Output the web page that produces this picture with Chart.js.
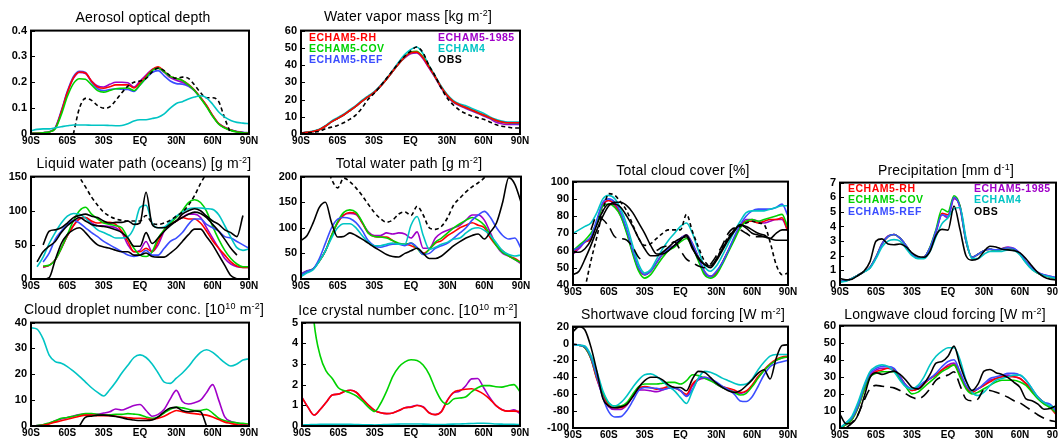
<!DOCTYPE html>
<html lang="en">
<head>
  <meta charset="UTF-8" />
  <title>Zonal mean climatologies</title>
  <script src="https://cdn.jsdelivr.net/npm/chart.js"></script>
  <style>
    body {
      margin: 0;
      width: 1058px;
      height: 439px;
      position: relative;
      overflow: hidden;
      background: white;
      font-family: 'Liberation Sans', Arial, sans-serif;
      color: black;
    }
    canvas { position: absolute; }
    .title {
      position: absolute;
      transform: translate(-50%, -50%);
      white-space: nowrap;
      font-size: 14px;
      letter-spacing: 0.2px;
    }
    .title sup { font-size: 9px; vertical-align: 5px; line-height: 0; }
    .legend {
      position: absolute;
      font-size: 10.5px;
      font-weight: bold;
      letter-spacing: 0.5px;
      line-height: 11.2px;
      white-space: nowrap;
    }
  </style>
</head>
<body>
<script>
  // latitudes (5 degree grid) and axis labels
  const LAT = [-90,-85,-80,-75,-70,-65,-60,-55,-50,-45,-40,-35,-30,-25,-20,-15,-10,-5,0,
               5,10,15,20,25,30,35,40,45,50,55,60,65,70,75,80,85,90];
  const LAT_TICKS = [-90, -60, -30, 0, 30, 60, 90];
  const LAT_NAMES = ['90S', '60S', '30S', 'EQ', '30N', '60N', '90N'];

  // aerosol optical depth
  const aodRH   = [0.002,0.003,0.005,0.008,0.022,0.085,0.16,0.217,0.24,0.236,0.204,0.182,0.177,0.183,0.19,0.19,0.19,0.178,0.198,0.223,0.248,0.26,0.242,0.223,0.215,0.207,0.192,0.17,0.141,0.11,0.072,0.04,0.025,0.015,0.009,0.005,0.003];
  const aodCOV  = [0.002,0.003,0.005,0.008,0.02,0.075,0.145,0.195,0.214,0.212,0.19,0.168,0.162,0.168,0.175,0.177,0.178,0.168,0.19,0.218,0.245,0.255,0.24,0.223,0.215,0.207,0.19,0.168,0.138,0.105,0.068,0.038,0.023,0.014,0.008,0.005,0.003];
  const aodREF  = [0.002,0.003,0.005,0.009,0.025,0.09,0.165,0.222,0.243,0.238,0.2,0.175,0.168,0.172,0.175,0.173,0.172,0.165,0.19,0.215,0.238,0.245,0.225,0.205,0.195,0.193,0.185,0.168,0.14,0.108,0.07,0.04,0.025,0.015,0.01,0.007,0.005];
  const aod1985 = [0.002,0.003,0.005,0.008,0.022,0.085,0.16,0.215,0.238,0.234,0.205,0.186,0.182,0.192,0.2,0.2,0.198,0.182,0.205,0.228,0.25,0.255,0.238,0.218,0.208,0.2,0.188,0.168,0.14,0.108,0.07,0.04,0.025,0.015,0.009,0.006,0.004];
  const aodE4   = [0.012,0.018,0.02,0.02,0.024,0.028,0.032,0.035,0.035,0.035,0.034,0.034,0.034,0.033,0.032,0.033,0.04,0.05,0.055,0.055,0.06,0.065,0.078,0.1,0.118,0.125,0.135,0.143,0.148,0.14,0.115,0.085,0.065,0.052,0.045,0.042,0.04];
  const aodObs  = [null,null,null,null,null,null,null,0,0.1,0.138,0.13,0.11,0.1,0.105,0.13,0.16,0.185,0.2,0.205,0.215,0.24,0.255,0.245,0.225,0.215,0.22,0.215,0.19,0.16,0.14,0.14,0.125,0.06,0,null,null,null];

  // water vapour mass
  const wvRH   = [0.5,1,1.5,2.5,4.5,7,9,11,13.5,16,19,21.5,24,27.5,31.5,36,40.5,44.5,47,47.5,44.5,39,33.5,27.5,22.5,19,17,15.5,14,12.5,11,9.5,8,7,6.5,6.5,6.5];
  const wvCOV  = [0.5,1,1.5,2.5,4.5,7,9,11,13.5,16,19,21.5,24,27.5,31.5,36,40.5,44.5,47.5,48,45,39.5,33.5,27.5,22.5,19,17,15.5,14,12.5,11,9.5,8,7,6.5,6.5,6.5];
  const wvREF  = [0.5,1,1.5,2.5,4.5,7,9,11,13.5,16,19,21.5,24,27.5,31.5,36,40.5,44.5,47,47.5,44.5,39,33.5,27.5,22.5,19,17,15.5,14,12.5,11,9.5,8,7,6.5,6,6];
  const wv1985 = [0.5,1,1.5,2.5,4.5,7,9,11,13.5,16,19,21.5,24,27.5,31.5,36,40.5,44,46.5,47,44,38.5,33,27,22,18.5,16.5,15,13.5,12,10.5,9,7,6,5.5,5.5,5.5];
  const wvE4   = [0.5,1,1.7,2.8,4.8,7.5,9.5,11.5,14,16.5,19.5,22,24.5,28,32,36.5,41.5,46,49,50.5,47,40,34,28,23,19.5,17.5,16.5,15,13.5,12,10,8.5,7.5,7,7,7];
  const wvObs  = [0.3,0.5,1,1.5,3,4,5,6.5,8.5,11,15,20,23.5,27.5,32,36.5,41,45,48,50.5,47.5,40,34,27,21,17,14,12,10.5,9.5,8.5,7,5.5,4.5,4,3.5,3.5];

  // liquid water path over oceans
  const lwpRH   = [null,null,18,20,28,45,63,78,88,90,85,82,83,83,80,70,55,40,40,45,40,55,72,80,85,90,88,88,82,70,56,45,35,25,19,17,17];
  const lwpCOV  = [null,null,19,20,28,45,65,85,100,105,95,88,82,80,78,75,60,45,35,33,40,60,72,82,90,100,112,116,112,99,77,58,42,30,22,18,18];
  const lwpREF  = [null,null,25,38,58,70,80,86,82,75,68,62,55,50,45,40,35,33,35,42,35,35,45,55,60,68,80,88,88,80,75,70,62,60,55,50,45];
  const lwp1985 = [null,null,17,20,28,45,63,78,88,90,82,78,78,77,75,68,50,40,42,55,40,50,70,80,85,90,95,95,90,75,60,45,30,22,18,17,17];
  const lwpE4   = [null,18,32,52,68,82,92,96,95,89,80,72,68,64,60,60,62,75,105,108,82,75,76,84,92,98,103,104,104,103,102,94,78,61,46,42,44];
  const lwpObsA = [null,null,50,70,72,75,82,90,93,95,92,90,85,82,83,83,85,80,82,127,80,75,75,80,85,95,100,103,100,92,85,80,72,68,62,93,null];
  const lwpObsB = [null,0,0,2,28,52,65,72,75,68,58,50,47,45,42,40,40,35,35,38,33,32,32,38,45,55,65,73,73,62,50,35,20,5,0,null,null];
  const lwpObsC = [null,25,40,48,55,68,78,85,90,85,80,78,77,75,72,68,60,48,48,68,52,60,70,78,85,90,95,98,96,90,80,70,58,45,35,null,null];
  const lwpObsD = [null,null,null,null,null,null,null,175,150,135,120,108,98,92,88,86,85,85,85,93,82,80,82,86,92,98,108,122,140,155,170,null,null,null,null,null,null];

  // total water path
  const twpRH   = [8,15,20,35,55,85,110,125,130,128,110,90,83,82,82,75,68,68,65,60,50,58,70,75,85,92,100,105,110,105,100,80,65,55,45,40,32];
  const twpCOV  = [8,15,20,35,55,85,112,130,135,130,112,90,83,82,80,75,70,68,70,60,48,58,72,80,90,100,108,115,120,115,105,85,65,52,45,38,32];
  const twpREF  = [8,15,20,40,70,100,117,120,118,110,95,75,65,62,65,68,68,65,70,62,48,50,60,65,70,80,90,100,115,125,132,120,100,85,78,80,60];
  const twp1985 = [10,16,20,35,55,85,110,125,128,126,110,92,85,85,90,88,90,88,80,92,60,60,80,90,95,100,105,115,125,125,115,90,65,50,45,38,30];
  const twpE4   = [5,12,18,35,55,80,100,108,108,100,85,72,65,65,68,70,68,68,105,122,85,58,62,68,72,78,80,90,98,100,95,85,70,55,48,45,47];
  const twpObsA = [75,85,110,140,150,110,82,83,90,85,78,70,62,55,48,44,43,50,55,60,50,40,40,45,55,65,73,80,85,88,78,92,110,150,198,185,150];
  const twpObsB = [null,null,null,null,230,195,178,197,190,178,163,146,130,118,111,115,127,131,124,142,125,100,97,103,120,145,158,170,180,188,198,215,null,null,null,null,null];

  // total cloud cover
  const tccRH   = [59,62,65,67,77,87,89,87,81,71,59,49,46,48,53,58,61,63,67,69,64,56,48,45,47,53,60,67,74,77,77,76,77,78,78,79,71];
  const tccCOV  = [60,63,66,70,76,86,87,85,80,70,58,48,44,46,51,56,60,62,65,67,62,54,46,44,46,52,59,66,73,77,78,77,78,79,80,81,73];
  const tccREF  = [60,62,65,68,78,88,90,88,82,72,60,50,46,48,53,58,61,63,67,69,64,56,48,45,48,53,60,68,75,80,83,84,84,84,85,87,80];
  const tcc1985 = [58,61,65,67,76,86,89,86,80,71,59,49,46,48,53,58,61,63,67,69,63,55,47,45,47,53,60,67,74,78,78,77,76,77,78,78,71];
  const tccE4   = [70,72,74,76,82,90,92,90,84,75,63,52,47,49,55,61,66,70,74,76,70,60,51,48,51,57,64,71,77,82,83,83,83,84,85,86,86];
  const tccObsA = [46,48,55,63,72,80,86,88,88,86,82,76,70,63,58,58,60,63,66,69,62,55,52,50,54,60,66,71,75,73,70,69,68,67,66,66,66];
  const tccObsB = [59,59,61,66,75,83,87,87,85,80,74,67,61,57,57,59,62,65,67,68,61,56,52,51,55,61,67,72,75,74,72,70,69,67,70,72,72];
  const tccObsC = [null,null,null,72,80,78,74,68,67,66,62,56,54,null,60,62,63,65,60,55,53,51,50,52,57,63,70,73,72,70,68,68,68,66,null,null,null];
  const tccObsD = [null,null,38,54,68,83,93,92,88,83,75,67,63,64,67,70,72,72,72,81,71,62,54,51,55,62,68,72,74,76,77,76,75,65,52,46,47];

  // precipitation
  const prRH   = [0.25,0.3,0.45,0.67,0.9,1.2,1.9,2.8,3.3,3.45,3.2,2.7,2.1,1.85,1.9,2.55,3.7,4.9,4.8,6.0,5.3,3.0,1.9,2.1,2.35,2.45,2.35,2.45,2.55,2.45,2.1,1.55,1.1,0.8,0.67,0.55,0.45];
  const prCOV  = [0.25,0.3,0.45,0.67,0.9,1.2,1.9,2.8,3.3,3.45,3.2,2.7,2.1,1.85,1.9,2.6,3.8,5.2,5.0,6.1,5.4,3.0,1.9,2.1,2.35,2.45,2.35,2.45,2.55,2.45,2.1,1.55,1.1,0.8,0.67,0.55,0.45];
  const prREF  = [0.25,0.3,0.45,0.67,0.9,1.2,1.9,2.8,3.3,3.45,3.2,2.7,2.1,1.85,1.9,2.55,3.7,4.8,4.7,6.0,5.3,3.0,1.9,2.1,2.35,2.45,2.4,2.45,2.55,2.5,2.15,1.6,1.15,0.85,0.7,0.6,0.5];
  const pr1985 = [0.25,0.3,0.45,0.67,0.9,1.2,1.9,2.85,3.35,3.45,3.2,2.7,2.1,1.85,1.9,2.5,3.6,4.8,4.6,5.9,5.4,3.1,1.9,2.1,2.35,2.45,2.35,2.5,2.6,2.5,2.15,1.6,1.15,0.85,0.7,0.6,0.5];
  const prE4   = [0.2,0.25,0.45,0.67,0.9,1.15,1.8,2.6,3.0,3.1,3.0,2.5,2.0,1.8,1.8,2.3,3.3,4.2,4.6,5.2,5.3,3.2,1.8,1.8,2.1,2.3,2.3,2.3,2.4,2.35,2.05,1.5,1.05,0.8,0.65,0.55,0.45];
  const prObs  = [0.45,0.35,0.4,0.65,0.95,1.6,3.0,3.15,2.8,2.75,2.8,2.6,2.2,1.95,1.9,2.3,3.4,3.8,3.75,5.4,3.8,2.0,1.7,1.8,2.3,2.65,2.6,2.45,2.4,2.35,2.2,1.8,1.3,0.85,0.55,0.4,0.35];

  // cloud droplet number concentration
  const cdRH   = [0,0.1,0.3,0.8,1.5,2,2.6,3.2,3.8,4.2,4.2,4,4,4,3.8,3.5,3.2,3,3,2.8,2.5,3,3.8,5,6,5.5,5,4.8,4.5,4.2,3.5,2.5,1.5,1,0.5,0.3,0.2];
  const cdCOV  = [0,0.2,0.5,1.2,2,3,3.3,3.8,4.3,4.8,4.8,4.5,4.3,4.3,4.5,4.5,4.8,4.6,4.3,3.5,3,3.5,5,6.5,7.3,7,6.5,6,6,6.5,5,3,2,1.5,1.2,1,0.8];
  const cd1985 = [0,0.2,0.5,1,2,2.7,3.3,3.9,4.4,4.7,4.6,4.5,5,5.5,6.6,6.2,7,7.9,8.3,6,3.8,4.5,6.5,10.5,13.8,9.5,8.5,9,10,13,16,10,3.5,1.8,1.2,0.6,0.3];
  const cdE4   = [38,37.5,33.7,27.4,24.9,24.3,23,21.2,19.2,17,14.8,13,11.6,14,17,20.5,23.5,26.5,27.5,26.5,24,20.5,17,16.5,18.5,20.5,23,26,28.5,29.5,28.5,26.5,24.5,23.2,24,25.5,26];
  const cdObs  = [null,null,null,null,null,null,null,null,0,3.4,3.8,4.2,4.2,4,3.7,3.2,2.6,2.3,2.1,2.1,2.3,3.5,5.5,7,7.2,6,5.5,5.8,5.5,0,null,null,null,null,null,null,null];

  // ice crystal number concentration
  const icRH   = [1.38,0.9,0.53,0.8,1.15,1.5,1.54,1.67,1.73,1.62,1.3,1.0,0.75,0.64,0.6,0.63,0.75,0.88,0.91,0.99,0.91,0.63,0.55,0.68,1.23,1.62,1.73,1.78,1.8,1.7,1.54,1.3,1.0,0.79,0.72,0.72,0.7];
  const icCOV  = [null,9,5.0,3.4,2.65,2.3,1.85,1.7,1.6,1.45,1.2,0.9,0.7,1.1,1.7,2.4,2.85,3.1,3.2,3.17,2.95,2.5,1.8,1.25,1.05,1.3,1.35,1.4,1.65,1.85,1.95,1.95,1.9,1.88,1.95,2.0,1.65];
  const ic1985 = [1.38,0.9,0.53,0.8,1.15,1.5,1.54,1.67,1.73,1.62,1.3,1.0,0.75,0.64,0.6,0.63,0.75,0.88,0.93,1.0,0.93,0.65,0.55,0.7,1.25,1.6,1.68,1.93,2.28,2.3,1.85,1.38,1.0,0.8,0.72,0.78,0.6];
  const icE4   = [0.05,0.06,0.07,0.08,0.08,0.08,0.08,0.08,0.08,0.07,0.06,0.06,0.05,0.06,0.07,0.08,0.09,0.1,0.1,0.1,0.09,0.08,0.07,0.07,0.08,0.09,0.1,0.11,0.12,0.13,0.13,0.12,0.1,0.09,0.08,0.08,0.07];

  // shortwave cloud forcing
  const swRH   = [-1,-2,-5,-18,-42,-60,-73,-76,-76,-72,-62,-53,-51,-52,-54,-53,-51,-52,-56,-60,-48,-42,-40,-42,-47,-51,-53,-55,-58,-56,-49,-39,-31,-24,-19,-16,-15];
  const swCOV  = [-1,-2,-5,-17,-40,-58,-71,-74,-74,-70,-60,-51,-48,-48,-48,-47,-46,-46,-48,-44,-37,-38,-41,-44,-48,-52,-55,-58,-61,-59,-51,-41,-32,-25,-20,-17,-16];
  const swREF  = [-1,-2,-4,-16,-39,-64,-81,-87,-86.5,-79.5,-68,-55.6,-52,-52.5,-53,-54.5,-53,-53,-55.6,-62.6,-54.5,-42,-40,-42,-45.6,-50.6,-54.5,-60,-68,-68.7,-63,-50.6,-37,-27.5,-23.6,-21.7,-19.7];
  const sw1985 = [-1,-2,-5,-18,-42,-62,-75,-78,-78,-73,-63,-55,-55,-56,-57,-55,-53,-53,-56,-62,-50,-43,-41,-43,-48,-52,-54,-57,-59,-57,-50,-40,-32,-25,-20,-17,-16];
  const swE4   = [-1.2,-2,-3,-14,-33,-56,-70,-74,-70,-62,-52,-43,-37,-36,-39,-45,-51,-56,-64,-71,-56,-41,-33,-34,-37,-41,-44,-47,-49,-48,-42,-31,-22,-15,-13,-13,-13];
  const swObs  = [14,20,16,-4,-33,-65,-74,-76,-75,-72,-63,-52,-44,-40,-40,-43,-49,-52,-52,-56,-42,-33,-34,-40,-47,-52,-56,-58,-56,-50,-43,-35,-31,-42,-18,-2.5,-1.6];

  // longwave cloud forcing
  const lwRH   = [0,2,5,12,22,30,33,34,35,34,30,25,22,23,26,29,31,34,36,37,31,24,21,23,25,27,29,30,30,30,29,26,22,18,15,12,8];
  const lwCOV  = [0,2,5,12,22,30,32,33,33,33,29,24,20,21,24,27,30,33,35,37,30,23,20,21,23,25,27,28,28,28,27,25,21,17,14,12,9];
  const lwREF  = [0,3,6,13,24,32,35,36,36,35,30,25,23,24,27,29,32,36,39,40,33,25,22,23,26,29,30,31,32,32,31,28,23,18,15,14,10];
  const lw1985 = [0,2,5,12,23,31,34,35,35,34,30,25,22,23,26,29,31,34,37,38,32,24,21,23,25,28,29,30,31,30,29,26,22,18,15,12,9];
  const lwE4   = [0,3,7,15,25,33,36,37,36,33,28,24,23,25,30,37,42,45,47,47,40,28,21,19,21,25,28,29,30,31,31,28,23,18,15,13,12];
  const lwObs  = [8,2.5,3,7.6,18,29.5,32.4,31.4,32.4,33.3,31.4,28,23.8,22.9,26,31.4,38,39,42,48,37,27.6,22,25.7,33.3,34.3,32.4,31.4,29.5,26.7,23.8,17,16,14,11,11.4,13];
  const lwObsB = [null,0,3,8,16,23,25,24.5,24,23.5,22,20,18,17,19,23,28,30,31,33,25,17,16,17,22.3,22,21,19.6,18,16,14.7,12.4,10,7.6,5.7,4.4,3.8];

  const RED = '#ff0000', GREEN = '#00d200', BLUE = '#3a4dff', PURPLE = '#a000c8', CYAN = '#00c4c4', BLACK = '#000000';
  const SHORT = [4, 3], LONG = [11, 6];

  Chart.defaults.font.family = "'Liberation Sans', Arial, sans-serif";
  Chart.defaults.color = '#000';

  // thick frame round the plotting area, with short inward ticks on the left
  const frame = {
    id: 'frame',
    afterDatasetsDraw(chart) {
      const { ctx, chartArea: a, scales } = chart;
      ctx.save();
      ctx.strokeStyle = '#000';
      ctx.lineWidth = 1;
      ctx.beginPath();
      scales.y.ticks.forEach(t => {
        const py = Math.round(scales.y.getPixelForValue(t.value)) + 0.5;
        ctx.moveTo(a.left, py);
        ctx.lineTo(a.left + 4, py);
      });
      ctx.stroke();
      ctx.lineWidth = 2;
      ctx.strokeRect(a.left, a.top, a.right - a.left, a.bottom - a.top);
      ctx.restore();
    }
  };

  const panels = [
    { box: [31, 28, 218, 106], y: [0, 0.4, 0.1], at: [143, 17], title: 'Aerosol optical depth',
      lines: [[aodE4, CYAN], [aodObs, BLACK, SHORT], [aodCOV, GREEN], [aodRH, RED], [aod1985, PURPLE], [aodREF, BLUE]] },
    { box: [301, 28, 219, 106], y: [0, 60, 10], at: [408, 16], title: 'Water vapor mass [kg m<sup>-2</sup>]',
      lines: [[wvObs, BLACK, SHORT], [wvRH, RED], [wvCOV, GREEN], [wvREF, BLUE], [wv1985, PURPLE], [wvE4, CYAN]] },
    { box: [31, 174, 218, 105], y: [0, 150, 50], at: [144, 163], title: 'Liquid water path (oceans) [g m<sup>-2</sup>]',
      lines: [[lwpObsD, BLACK, SHORT], [lwpObsA, BLACK], [lwpObsB, BLACK], [lwpObsC, BLACK], [lwpE4, CYAN], [lwpREF, BLUE], [lwpCOV, GREEN], [lwpRH, RED], [lwp1985, PURPLE]] },
    { box: [301, 174, 220, 105], y: [0, 200, 50], at: [409, 163], title: 'Total water path [g m<sup>-2</sup>]',
      lines: [[twpObsB, BLACK, SHORT], [twpObsA, BLACK], [twpE4, CYAN], [twpREF, BLUE], [twpCOV, GREEN], [twpRH, RED], [twp1985, PURPLE]] },
    { box: [573, 179, 215, 106], y: [40, 100, 10], at: [683, 170], title: 'Total cloud cover [%]',
      lines: [[tccObsD, BLACK, SHORT], [tccObsC, BLACK, LONG], [tccObsA, BLACK], [tccObsB, BLACK], [tccE4, CYAN], [tccREF, BLUE], [tccCOV, GREEN], [tccRH, RED], [tcc1985, PURPLE]] },
    { box: [840, 180, 216, 105], y: [0, 7, 1], at: [946, 170], title: 'Precipitation [mm d<sup>-1</sup>]',
      lines: [[prObs, BLACK], [prE4, CYAN], [prREF, BLUE], [prCOV, GREEN], [prRH, RED], [pr1985, PURPLE]] },
    { box: [31, 320, 218, 106], y: [0, 40, 10], at: [144, 309], title: 'Cloud droplet number conc. [10<sup>10</sup> m<sup>-2</sup>]',
      lines: [[cdE4, CYAN], [cdObs, BLACK], [cdRH, RED], [cdCOV, GREEN], [cd1985, PURPLE]] },
    { box: [302, 320, 218, 106], y: [0, 5, 1], at: [408, 310], title: 'Ice crystal number conc. [10<sup>10</sup> m<sup>-2</sup>]',
      lines: [[icE4, CYAN], [icCOV, GREEN], [icRH, RED], [ic1985, PURPLE]] },
    { box: [573, 324, 215, 104], y: [-100, 20, 20], at: [683, 314], title: 'Shortwave cloud forcing [W m<sup>-2</sup>]',
      lines: [[swObs, BLACK], [swE4, CYAN], [swREF, BLUE], [swCOV, GREEN], [swRH, RED], [sw1985, PURPLE]] },
    { box: [840, 323, 216, 105], y: [0, 60, 10], at: [945, 314], title: 'Longwave cloud forcing [W m<sup>-2</sup>]',
      lines: [[lwObsB, BLACK, LONG], [lwObs, BLACK], [lwE4, CYAN], [lwREF, BLUE], [lwCOV, GREEN], [lwRH, RED], [lw1985, PURPLE]] }
  ];

  function addText(cls, x, y, html, color) {
    const d = document.createElement('div');
    d.className = cls;
    d.style.left = x + 'px';
    d.style.top = y + 'px';
    if (color) d.style.color = color;
    d.innerHTML = html;
    document.body.appendChild(d);
  }

  function drawPanel(p) {
    const [l, t, w, h] = p.box;
    const cv = document.createElement('canvas');
    cv.width = w + 44;
    cv.height = h + 22;
    cv.style.left = (l - 30) + 'px';
    cv.style.top = (t - 8) + 'px';
    document.body.appendChild(cv);

    new Chart(cv, {
      type: 'line',
      data: {
        datasets: p.lines.map(([vals, color, dash]) => ({
          data: LAT.map((x, i) => ({ x, y: vals[i] })),
          borderColor: color,
          borderWidth: 1.6,
          borderDash: dash || [],
          pointRadius: 0,
          cubicInterpolationMode: 'monotone',
          spanGaps: false,
          fill: false,
          clip: 0
        }))
      },
      options: {
        responsive: false,
        animation: false,
        devicePixelRatio: 1,
        layout: { padding: { left: 0, top: 8, right: 14, bottom: 0 } },
        plugins: { legend: { display: false }, tooltip: { enabled: false } },
        scales: {
          x: {
            type: 'linear', min: -90, max: 90,
            ticks: {
              stepSize: 30, autoSkip: false, maxRotation: 0, padding: 1,
              font: { size: 10, weight: 'bold' },
              callback: v => LAT_NAMES[LAT_TICKS.indexOf(v)]
            },
            grid: { display: false, drawTicks: false },
            border: { display: false },
            afterFit: s => { s.height = 14; }
          },
          y: {
            min: p.y[0], max: p.y[1],
            ticks: { stepSize: p.y[2], autoSkip: false, padding: 4, font: { size: 11, weight: 'bold' } },
            grid: { display: false, drawTicks: false },
            border: { display: false },
            afterFit: s => { s.width = 30; }
          }
        }
      },
      plugins: [frame]
    });

    addText('title', p.at[0], p.at[1], p.title);
  }

  panels.forEach(drawPanel);

  // model / observation key, shown in two of the panels
  const keyLeft = [['ECHAM5-RH', RED], ['ECHAM5-COV', GREEN], ['ECHAM5-REF', BLUE]];
  const keyRight = [['ECHAM5-1985', PURPLE], ['ECHAM4', CYAN], ['OBS', BLACK]];
  [[309, 438, 32], [848, 974, 183.2]].forEach(([xl, xr, yt]) => {
    keyLeft.forEach(([name, c], i) => addText('legend', xl, yt + i * 11.2, name, c));
    keyRight.forEach(([name, c], i) => addText('legend', xr, yt + i * 11.2, name, c));
  });
</script>
</body>
</html>
